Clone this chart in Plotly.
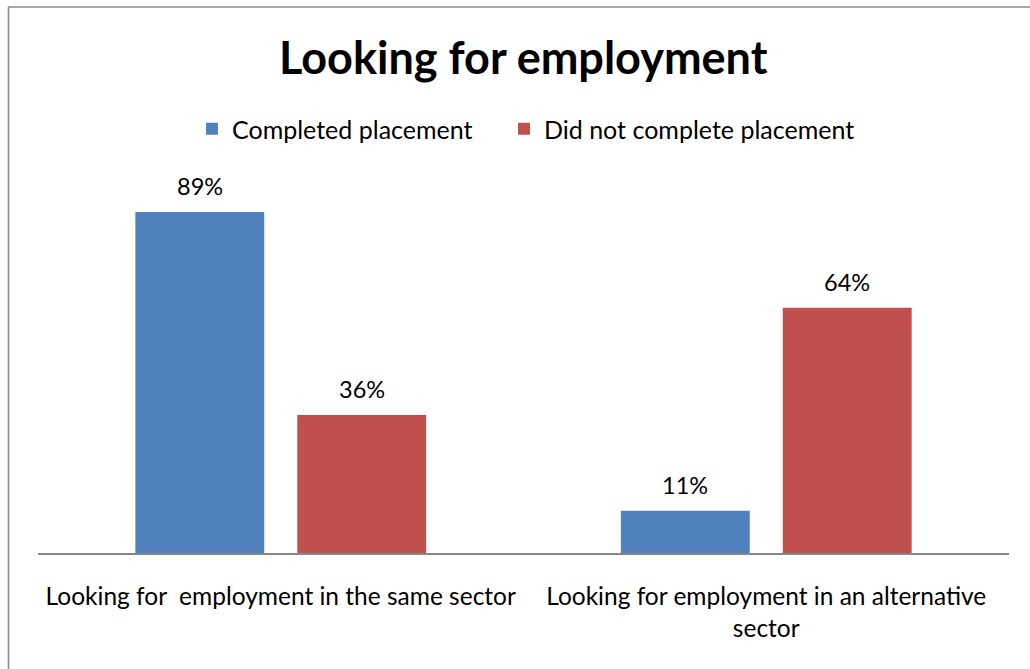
import plotly.graph_objects as go

# Chart data
categories = ["Looking for\u00a0 employment in the same sector",
              "Looking for employment in an alternative<br>sector"]
series_names = ["Completed placement", "Did not complete placement"]
completed = [89, 11]
not_completed = [36, 64]
colors = ["#4F81BD", "#C0504D"]

FONT = "Lato"
W, H = 1030, 669
M_L, M_R, M_T, M_B = 38, 21, 160, 116
plot_w = W - M_L - M_R
plot_h = H - M_T - M_B
px_per_unit = 3.831
y_max = plot_h / px_per_unit

legend_ids = ["legend", "legend2"]
legend_left_px = [192, 504]

fig = go.Figure()
for name, vals, col, lg in zip(series_names, [completed, not_completed], colors, legend_ids):
    fig.add_trace(go.Bar(
        x=categories, y=vals, name=name, legend=lg,
        marker=dict(color=col, line=dict(width=0)),
        hoverinfo="skip",
    ))

# Value labels above each bar
slot_shift = 81
for i, vals in enumerate([completed, not_completed]):
    for cat, v in zip(categories, vals):
        fig.add_annotation(
            x=cat, y=v, text=f"{v}%", showarrow=False,
            xshift=(-slot_shift if i == 0 else slot_shift), yshift=26,
            yanchor="middle", font=dict(family=FONT, size=23.5, color="#000000"),
        )

# Outer frame of the chart area
fig.add_shape(type="rect", xref="paper", yref="paper",
              x0=(8.5 - M_L) / plot_w, x1=1.2,
              y0=-1.0, y1=(H - M_B - 7) / plot_h,
              line=dict(color="#8C8C8C", width=1.6), fillcolor="rgba(0,0,0,0)", layer="above")

legend_style = dict(orientation="h", xanchor="left",
                    y=(H - M_B - 129) / plot_h, yanchor="middle",
                    font=dict(family=FONT, size=25, color="#000000"),
                    itemclick=False, itemdoubleclick=False)

fig.update_layout(
    width=W, height=H,
    margin=dict(l=M_L, r=M_R, t=M_T, b=M_B),
    paper_bgcolor="white", plot_bgcolor="white",
    barmode="group", bargap=0.333, bargroupgap=0.204,
    title=dict(text="<b>Looking for employment</b>", x=0.508, xanchor="center",
               y=1 - 58 / H, yanchor="middle", yref="container",
               font=dict(family=FONT, size=45, color="#000000")),
    legend=dict(x=(legend_left_px[0] - M_L) / plot_w, **legend_style),
    legend2=dict(x=(legend_left_px[1] - M_L) / plot_w, **legend_style),
    xaxis=dict(showline=True, linecolor="#868686", linewidth=1.5,
               ticks="", showgrid=False, zeroline=False,
               tickfont=dict(family=FONT, size=24.5, color="#000000"),
               ticklabelstandoff=21, fixedrange=True),
    yaxis=dict(range=[0, y_max], visible=False, showgrid=False, zeroline=False,
               fixedrange=True),
    showlegend=True,
)

fig.write_html("out.html", config={"displayModeBar": False})
